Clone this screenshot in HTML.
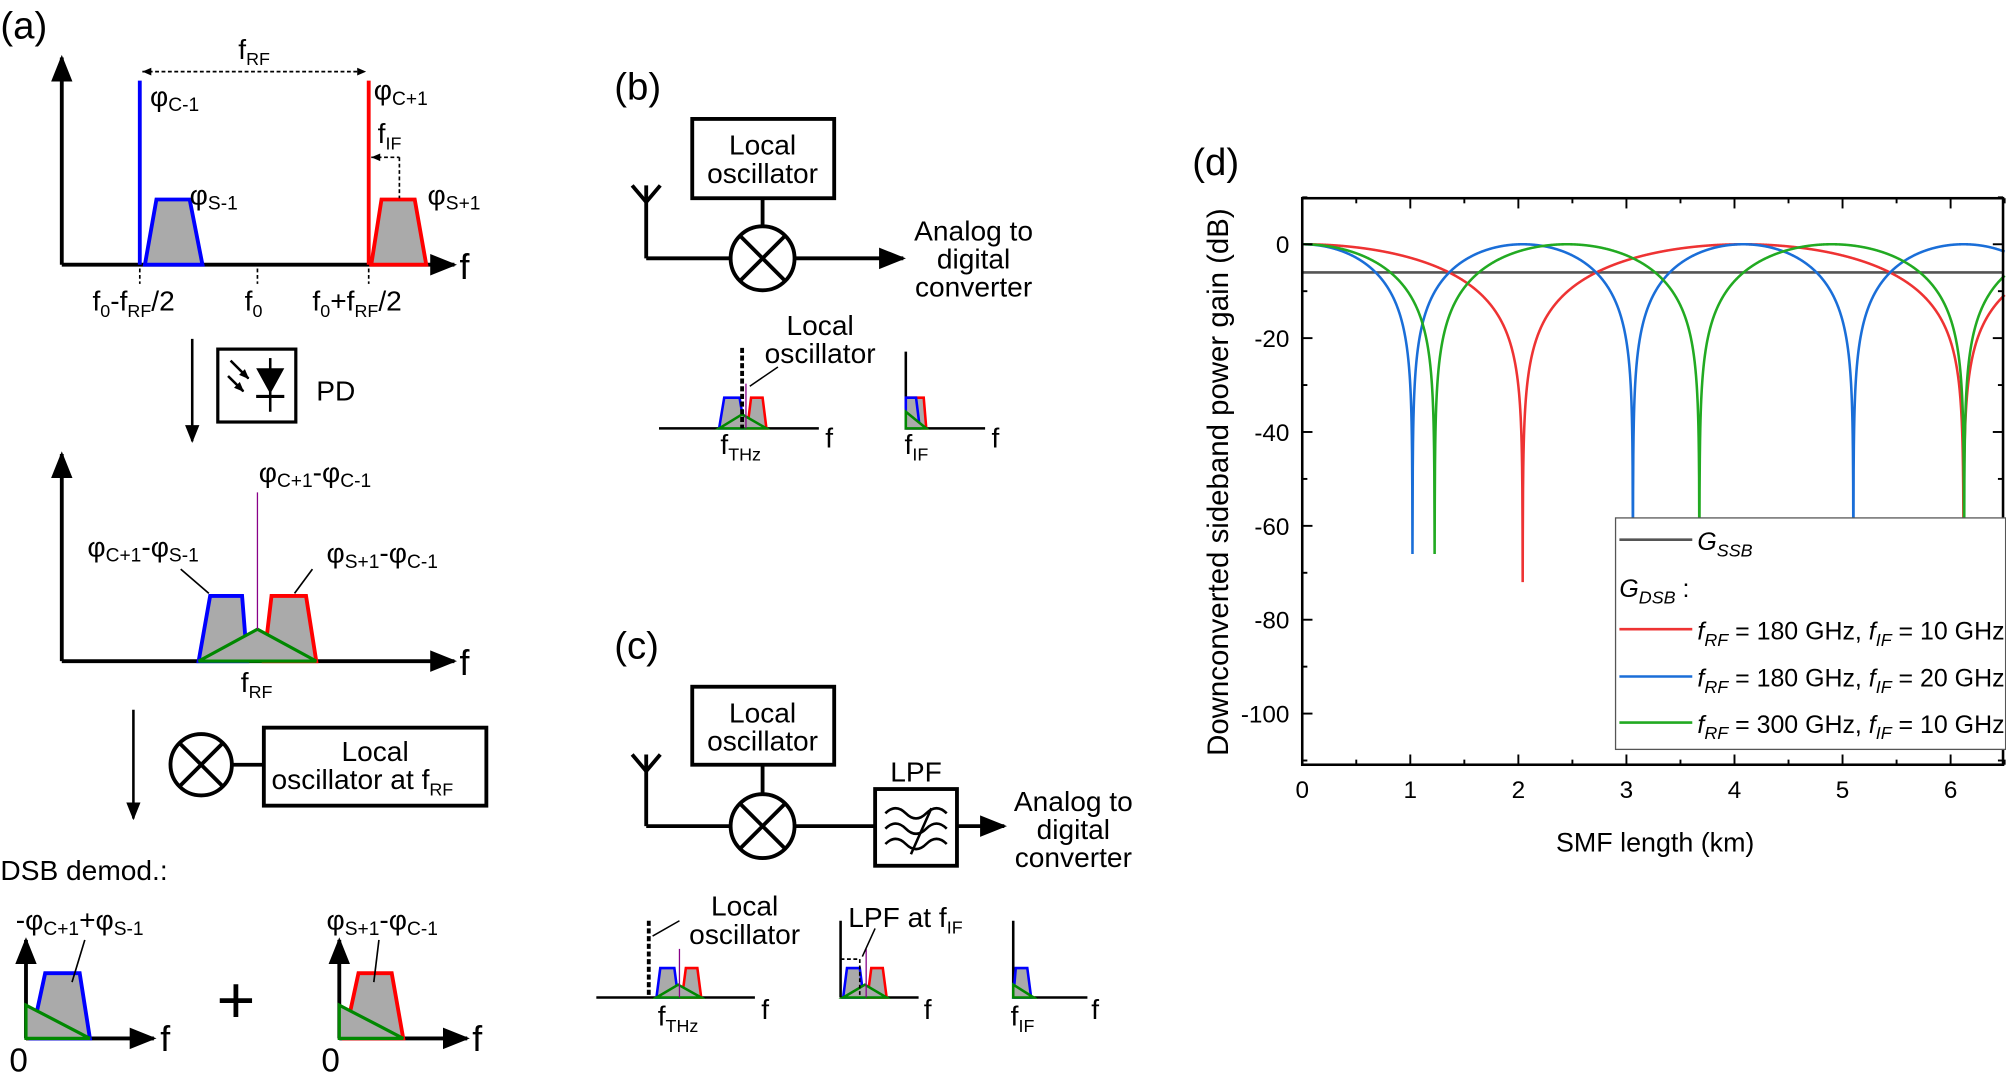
<!DOCTYPE html>
<html><head><meta charset="utf-8"><style>
html,body{margin:0;padding:0;background:#fff}
svg{display:block}
text{font-family:"Liberation Sans",sans-serif;fill:#000}
</style></head><body>
<svg id="s" width="2006" height="1087" viewBox="0 0 1568 850" xmlns="http://www.w3.org/2000/svg">
<defs>
<marker id="ar" viewBox="0 0 10 10" refX="9" refY="5" markerWidth="7" markerHeight="7" orient="auto"><path d="M0,1 L10,5 L0,9 z" fill="#000"/></marker>
<marker id="sa" viewBox="0 0 10 10" refX="9" refY="5" markerWidth="4" markerHeight="4" orient="auto"><path d="M0,1 L10,5 L0,9 z" fill="#000"/></marker>
</defs>
<g stroke="#000" stroke-width="3" fill="none">
<line x1="48" y1="207" x2="48" y2="45" marker-end="url(#ar)"/>
<line x1="48" y1="207" x2="355" y2="207" marker-end="url(#ar)"/>
<line x1="48" y1="517" x2="48" y2="355" marker-end="url(#ar)"/>
<line x1="48" y1="517" x2="355" y2="517" marker-end="url(#ar)"/>
<line x1="150" y1="265" x2="150" y2="345" stroke-width="2" marker-end="url(#ar)"/>
<line x1="104" y1="555" x2="104" y2="640" stroke-width="2" marker-end="url(#ar)"/>
<rect x="170" y="273" width="61" height="57" stroke-width="2.5"/>
<circle cx="157" cy="598" r="24"/><line x1="140" y1="581" x2="174" y2="615"/><line x1="174" y1="581" x2="140" y2="615"/>
<line x1="181" y1="598" x2="206" y2="598"/>
<rect x="206" y="569" width="174" height="61"/>
<line x1="20" y1="812" x2="20" y2="735" marker-end="url(#ar)"/>
<line x1="20" y1="812" x2="120" y2="812" marker-end="url(#ar)"/>
<line x1="265" y1="812" x2="265" y2="735" marker-end="url(#ar)"/>
<line x1="265" y1="812" x2="365" y2="812" marker-end="url(#ar)"/>
<rect x="541" y="93" width="111" height="62"/>
<line x1="596" y1="155" x2="596" y2="177"/>
<line x1="505" y1="145" x2="505" y2="202"/><line x1="505" y1="202" x2="571" y2="202"/>
<path d="M494,145 L505,158 L516,145"/>
<circle cx="596" cy="202" r="25"/><line x1="578" y1="184" x2="614" y2="220"/><line x1="614" y1="184" x2="578" y2="220"/>
<line x1="621" y1="202" x2="706" y2="202" marker-end="url(#ar)"/>
<rect x="541" y="537" width="111" height="61"/>
<line x1="596" y1="598" x2="596" y2="621"/>
<line x1="505" y1="590" x2="505" y2="646"/><line x1="505" y1="646" x2="571" y2="646"/>
<path d="M494,590 L505,603 L516,590"/>
<circle cx="596" cy="646" r="25"/><line x1="578" y1="628" x2="614" y2="664"/><line x1="614" y1="628" x2="578" y2="664"/>
<line x1="621" y1="646" x2="684" y2="646"/>
<rect x="684" y="617" width="64" height="60"/>
<path d="M692,636 q8,-8 16,0 t16,0 t16,0 M692,648 q8,-8 16,0 t16,0 t16,0 M692,660 q8,-8 16,0 t16,0 t16,0" stroke-width="2"/>
<line x1="712" y1="668" x2="728" y2="632" stroke-width="2"/>
<line x1="748" y1="646" x2="785" y2="646" marker-end="url(#ar)"/>
</g>
<g stroke-width="3">
<line x1="109" y1="63" x2="109" y2="207" stroke="#00f"/>
<line x1="288" y1="63" x2="288" y2="207" stroke="#f00"/>
<path d="M113,207 L122,156 L148,156 L158,207z" fill="#aaa" stroke="#00f"/>
<path d="M290,207 L298,156 L324,156 L333,207z" fill="#aaa" stroke="#f00"/>
</g>
<g stroke="#000" stroke-width="1.3" stroke-dasharray="3,2" fill="none">
<line x1="111" y1="56" x2="286" y2="56"/>
<line x1="290" y1="123" x2="312" y2="123"/><line x1="312" y1="123" x2="312" y2="155"/>
<line x1="109" y1="210" x2="109" y2="222"/><line x1="201" y1="210" x2="201" y2="222"/><line x1="288" y1="210" x2="288" y2="222"/>
</g>
<path d="M111,56 l7,-3 v6z M286,56 l-7,-3 v6z M290,123 l7,-3 v6z" fill="#000"/>
<path d="M200,288 L222,288 L211,308z" fill="#000"/><line x1="200" y1="310" x2="222" y2="310" stroke="#000" stroke-width="2.5"/><line x1="211" y1="280" x2="211" y2="322" stroke="#000" stroke-width="2"/>
<line x1="180" y1="282" x2="194" y2="296" stroke="#000" stroke-width="2" marker-end="url(#sa)"/><line x1="178" y1="294" x2="190" y2="306" stroke="#000" stroke-width="2" marker-end="url(#sa)"/>
<g stroke-width="3">
<path d="M155,517 L164,466 L189,466 L193,517z" fill="#aaa" stroke="#00f"/>
<path d="M206,517 L212,466 L239,466 L247,517z" fill="#aaa" stroke="#f00"/>
<path d="M155,517 L201,492 L247,517z" fill="#aaa" stroke="#080" stroke-width="2.5"/>
<line x1="201" y1="385" x2="201" y2="492" stroke="#808" stroke-width="1"/>
</g>
<line x1="141" y1="445" x2="163" y2="464" stroke="#000" stroke-width="1.3"/>
<line x1="244" y1="445" x2="230" y2="464" stroke="#000" stroke-width="1.3"/>
<g stroke-width="3">
<path d="M24,812 L35,761 L62,761 L70,812z" fill="#aaa" stroke="#00f"/>
<path d="M20,786 L70,812 L20,812z" fill="#aaa" stroke="#080" stroke-width="2.5"/>
<path d="M269,812 L280,761 L306,761 L315,812z" fill="#aaa" stroke="#f00"/>
<path d="M265,786 L315,812 L265,812z" fill="#aaa" stroke="#080" stroke-width="2.5"/>
</g>
<line x1="66" y1="735" x2="56" y2="768" stroke="#000" stroke-width="1.3"/>
<line x1="296" y1="735" x2="292" y2="768" stroke="#000" stroke-width="1.3"/>
<g stroke-width="2">
<line x1="515" y1="335" x2="640" y2="335" stroke="#000"/>
<path d="M562,335 L566,311 L578,311 L582,335z" fill="#aaa" stroke="#00f"/>
<path d="M584,335 L587,311 L596,311 L599,335z" fill="#aaa" stroke="#f00"/>
<path d="M562,335 L580,324 L599,335z" fill="#aaa" stroke="#080"/>
<line x1="580" y1="272" x2="580" y2="335" stroke="#000" stroke-width="3" stroke-dasharray="4,2"/>
<line x1="583" y1="300" x2="583" y2="335" stroke="#808" stroke-width="1"/>
<line x1="708" y1="275" x2="708" y2="335" stroke="#000"/><line x1="708" y1="335" x2="770" y2="335" stroke="#000"/>
<path d="M708,335 L710,311 L722,311 L724,335z" fill="#aaa" stroke="#f00"/>
<path d="M708,335 L708,311 L716,311 L719,335z" fill="#aaa" stroke="#00f"/>
<path d="M708,322 L724,335 L708,335z" fill="#aaa" stroke="#080"/>
</g>
<line x1="608" y1="287" x2="586" y2="302" stroke="#000" stroke-width="1.2"/>
<g stroke-width="2">
<line x1="466" y1="780" x2="590" y2="780" stroke="#000"/>
<line x1="507" y1="720" x2="507" y2="780" stroke="#000" stroke-width="3" stroke-dasharray="4,2"/>
<path d="M513,780 L516,757 L527,757 L530,780z" fill="#aaa" stroke="#00f"/>
<path d="M533,780 L536,757 L545,757 L548,780z" fill="#aaa" stroke="#f00"/>
<path d="M513,780 L530,770 L548,780z" fill="#aaa" stroke="#080"/>
<line x1="531" y1="742" x2="531" y2="780" stroke="#808" stroke-width="1"/>
<line x1="657" y1="720" x2="657" y2="780" stroke="#000"/><line x1="657" y1="780" x2="718" y2="780" stroke="#000"/>
<path d="M659,780 L662,757 L672,757 L675,780z" fill="#aaa" stroke="#00f"/>
<path d="M678,780 L681,757 L690,757 L693,780z" fill="#aaa" stroke="#f00"/>
<path d="M659,780 L676,770 L693,780z" fill="#aaa" stroke="#080"/>
<line x1="677" y1="742" x2="677" y2="780" stroke="#808" stroke-width="1"/>
<path d="M657,750 L672,750 L672,780" stroke="#000" stroke-width="1.3" stroke-dasharray="3,2" fill="none"/>
<line x1="792" y1="720" x2="792" y2="780" stroke="#000"/><line x1="792" y1="780" x2="850" y2="780" stroke="#000"/>
<path d="M792,780 L794,757 L803,757 L806,780z" fill="#aaa" stroke="#00f"/>
<path d="M792,770 L808,780 L792,780z" fill="#aaa" stroke="#080"/>
</g>
<line x1="531" y1="720" x2="510" y2="732" stroke="#000" stroke-width="1.2"/>
<line x1="684" y1="726" x2="674" y2="748" stroke="#000" stroke-width="1.2"/>
<g font-size="22">
<text x="0" y="30" font-size="30">(a)</text>
<text x="186" y="46">f<tspan font-size="14" dy="5">RF</tspan></text>
<text x="117" y="83">φ<tspan font-size="15" dy="4">C-1</tspan></text>
<text x="148" y="160">φ<tspan font-size="15" dy="4">S-1</tspan></text>
<text x="292" y="78">φ<tspan font-size="15" dy="4">C+1</tspan></text>
<text x="295" y="112">f<tspan font-size="14" dy="5">IF</tspan></text>
<text x="334" y="160">φ<tspan font-size="15" dy="4">S+1</tspan></text>
<text x="359" y="218" font-size="28">f</text>
<text x="72" y="243">f<tspan font-size="14" dy="5">0</tspan><tspan dy="-5">-f</tspan><tspan font-size="14" dy="5">RF</tspan><tspan dy="-5">/2</tspan></text>
<text x="191" y="243">f<tspan font-size="14" dy="5">0</tspan></text>
<text x="244" y="243">f<tspan font-size="14" dy="5">0</tspan><tspan dy="-5">+f</tspan><tspan font-size="14" dy="5">RF</tspan><tspan dy="-5">/2</tspan></text>
<text x="247" y="313">PD</text>
<text x="202" y="377">φ<tspan font-size="15" dy="4">C+1</tspan><tspan dy="-4">-φ</tspan><tspan font-size="15" dy="4">C-1</tspan></text>
<text x="68" y="435">φ<tspan font-size="15" dy="4">C+1</tspan><tspan dy="-4">-φ</tspan><tspan font-size="15" dy="4">S-1</tspan></text>
<text x="255" y="440">φ<tspan font-size="15" dy="4">S+1</tspan><tspan dy="-4">-φ</tspan><tspan font-size="15" dy="4">C-1</tspan></text>
<text x="359" y="528" font-size="28">f</text>
<text x="188" y="541">f<tspan font-size="14" dy="5">RF</tspan></text>
<text x="293" y="595" text-anchor="middle">Local</text>
<text x="212" y="617">oscillator at f<tspan font-size="14" dy="5">RF</tspan></text>
<text x="0" y="688">DSB demod.:</text>
<text x="12" y="727">-φ<tspan font-size="15" dy="4">C+1</tspan><tspan dy="-4">+φ</tspan><tspan font-size="15" dy="4">S-1</tspan></text>
<text x="255" y="727">φ<tspan font-size="15" dy="4">S+1</tspan><tspan dy="-4">-φ</tspan><tspan font-size="15" dy="4">C-1</tspan></text>
<text x="125" y="822" font-size="28">f</text><text x="369" y="822" font-size="28">f</text>
<text x="7" y="838" font-size="26">0</text><text x="251" y="838" font-size="26">0</text>
<text x="169" y="800" font-size="52">+</text>
<text x="480" y="78" font-size="30">(b)</text>
<text x="596" y="121" text-anchor="middle">Local</text>
<text x="596" y="143" text-anchor="middle">oscillator</text>
<text x="761" y="188" text-anchor="middle">Analog to</text>
<text x="761" y="210" text-anchor="middle">digital</text>
<text x="761" y="232" text-anchor="middle">converter</text>
<text x="641" y="262" text-anchor="middle">Local</text>
<text x="641" y="284" text-anchor="middle">oscillator</text>
<text x="645" y="350">f</text><text x="775" y="350">f</text>
<text x="563" y="355">f<tspan font-size="14" dy="5">THz</tspan></text>
<text x="707" y="355">f<tspan font-size="14" dy="5">IF</tspan></text>
<text x="480" y="515" font-size="30">(c)</text>
<text x="596" y="565" text-anchor="middle">Local</text>
<text x="596" y="587" text-anchor="middle">oscillator</text>
<text x="716" y="611" text-anchor="middle">LPF</text>
<text x="839" y="634" text-anchor="middle">Analog to</text>
<text x="839" y="656" text-anchor="middle">digital</text>
<text x="839" y="678" text-anchor="middle">converter</text>
<text x="582" y="716" text-anchor="middle">Local</text>
<text x="582" y="738" text-anchor="middle">oscillator</text>
<text x="663" y="725">LPF at f<tspan font-size="14" dy="5">IF</tspan></text>
<text x="595" y="797">f</text><text x="722" y="797">f</text><text x="853" y="797">f</text>
<text x="514" y="802">f<tspan font-size="14" dy="5">THz</tspan></text>
<text x="790" y="802">f<tspan font-size="14" dy="5">IF</tspan></text>
<text x="932" y="137" font-size="30">(d)</text>
</g>
<g id="plot"></g>
<rect x="1018" y="155" width="548" height="443" fill="none" stroke="#000" stroke-width="2"/>
<g font-size="19" text-anchor="end" id="yl"></g>
<g font-size="19" text-anchor="middle" id="xl"></g>
<text x="1294" y="666" font-size="21" text-anchor="middle">SMF length (km)</text>
<text transform="translate(960,377) rotate(-90)" font-size="23" text-anchor="middle">Downconverted sideband power gain (dB)</text>
<rect x="1263" y="405" width="305" height="181" fill="#fff" stroke="#555" stroke-width="1"/>
<g stroke-width="2">
<line x1="1266" y1="422" x2="1323" y2="422" stroke="#555"/>
<line x1="1266" y1="492" x2="1323" y2="492" stroke="#e33"/>
<line x1="1266" y1="529" x2="1323" y2="529" stroke="#1a6ed8"/>
<line x1="1266" y1="565" x2="1323" y2="565" stroke="#2a2"/>
</g>
<g font-size="19.5">
<text x="1327" y="430" font-style="italic">G<tspan font-size="14" dy="5">SSB</tspan></text>
<text x="1266" y="467" font-style="italic">G<tspan font-size="14" dy="5">DSB</tspan><tspan font-style="normal" dy="-5"> :</tspan></text>
<text x="1327" y="500"><tspan font-style="italic">f</tspan><tspan font-size="14" dy="5" font-style="italic">RF</tspan><tspan dy="-5"> = 180 GHz, </tspan><tspan font-style="italic">f</tspan><tspan font-size="14" dy="5" font-style="italic">IF</tspan><tspan dy="-5"> = 10 GHz</tspan></text>
<text x="1327" y="537"><tspan font-style="italic">f</tspan><tspan font-size="14" dy="5" font-style="italic">RF</tspan><tspan dy="-5"> = 180 GHz, </tspan><tspan font-style="italic">f</tspan><tspan font-size="14" dy="5" font-style="italic">IF</tspan><tspan dy="-5"> = 20 GHz</tspan></text>
<text x="1327" y="573"><tspan font-style="italic">f</tspan><tspan font-size="14" dy="5" font-style="italic">RF</tspan><tspan dy="-5"> = 300 GHz, </tspan><tspan font-style="italic">f</tspan><tspan font-size="14" dy="5" font-style="italic">IF</tspan><tspan dy="-5"> = 10 GHz</tspan></text>
</g>
</svg>
<script>
(function(){
var NS="http://www.w3.org/2000/svg",p=document.getElementById("plot");
function X(k){return 1018+84.5*k}function Y(d){return 191-3.67*d}
function add(tag,a,par){var e=document.createElementNS(NS,tag);for(var k in a)e.setAttribute(k,a[k]);(par||p).appendChild(e);return e}
var cs=[["#e33",4.08,-72],["#1a6ed8",2.04,-66],["#2a2",2.45,-66]];
add("line",{x1:1018,y1:Y(-6),x2:1566,y2:Y(-6),stroke:"#555","stroke-width":2});
cs.forEach(function(c){var pts=[];var nulls=[];for(var n=0;n<10;n++)nulls.push(c[1]*(n+0.5));
for(var i=0;i<=3000;i++){var L=6.5*i/3000;var v=Math.cos(Math.PI*L/c[1]);var d=10*Math.log10(Math.max(v*v,1e-12));if(d<c[2])d=c[2];pts.push(X(L).toFixed(2)+","+Y(d).toFixed(2));
nulls.forEach(function(nl){var L2=L+6.5/3000;if(L<nl&&L2>nl){pts.push(X(nl).toFixed(2)+","+Y(c[2]).toFixed(2));}});}
add("polyline",{points:pts.join(" "),fill:"none",stroke:c[0],"stroke-width":2});});
var yl=document.getElementById("yl"),xl=document.getElementById("xl");
for(var d=0;d>=-100;d-=20){var t=add("text",{x:1008,y:Y(d)+7},yl);t.textContent=d;}
for(var d=10;d>=-110;d-=10){var len=(d%20==0)?8:4;add("line",{x1:1018,y1:Y(d),x2:1018+len,y2:Y(d),stroke:"#000","stroke-width":1.5});add("line",{x1:1566,y1:Y(d),x2:1566-len,y2:Y(d),stroke:"#000","stroke-width":1.5});}
for(var k=0;k<=6.5;k+=0.5){var len=(k%1==0)?8:4;add("line",{x1:X(k),y1:598,x2:X(k),y2:598-len,stroke:"#000","stroke-width":1.5});add("line",{x1:X(k),y1:155,x2:X(k),y2:155+len,stroke:"#000","stroke-width":1.5});}
for(var k=0;k<=6;k++){var t=add("text",{x:X(k),y:624},xl);t.textContent=k;}
})();
</script>
</body></html>
